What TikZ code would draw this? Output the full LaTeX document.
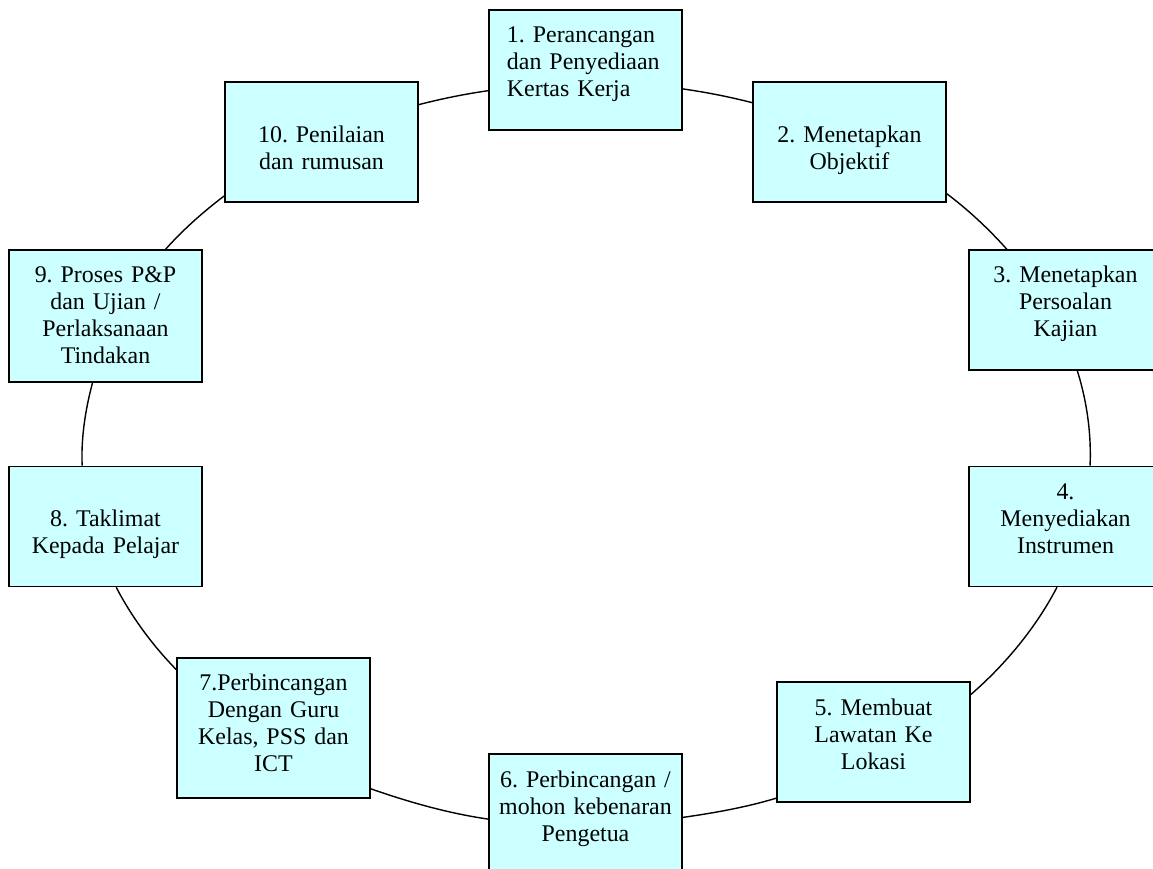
\documentclass[tikz,border=0pt]{standalone}
\usepackage{fontspec}
\setmainfont{Liberation Serif}
\frenchspacing
\definecolor{stagefill}{HTML}{CCFFFF}
\tikzstyle{stage} = [draw=black, line width=1.1pt, fill=stagefill, text width=4.425cm, inner xsep=0.2cm, inner ysep=0pt, align=center, text height=0.825cm, text depth=2.175cm, font=\fontsize{17}{19.2}\selectfont]
\tikzstyle{twoline} = [text height=1.5cm, text depth=1.5cm]
\tikzstyle{link} = [line width=1pt, looseness=0.85]

\begin{document}
\begin{tikzpicture}[x=0.025cm, y=0.025cm]
\useasboundingbox (0,0) rectangle (1153,-869);

\node[stage, align=left, inner xsep=0.45cm, text width=3.925cm] (plan) at (585.5,-70) {1. Perancangan\\dan Penyediaan\\Kertas Kerja};
\node[stage, twoline] (objektif) at (849.5,-142) {2. Menetapkan\\Objektif};
\node[stage] (persoalan) at (1065.5,-310) {3. Menetapkan\\Persoalan\\Kajian};
\node[stage] (instrumen) at (1065.5,-526.5) {4.\\Menyediakan\\Instrumen};
\node[stage] (lawatan) at (873.5,-742) {5. Membuat\\Lawatan Ke\\Lokasi};
\node[stage] (pengetua) at (585.5,-814) {6. Perbincangan /\\mohon kebenaran\\Pengetua};
\node[stage, text depth=2.675cm] (guru) at (273.5,-728) {7.Perbincangan\\Dengan Guru\\Kelas, PSS dan\\ICT};
\node[stage, twoline] (taklimat) at (105.5,-526.5) {8. Taklimat\\Kepada Pelajar};
\node[stage, text depth=2.475cm] (proses) at (105.5,-316) {9. Proses P\&P\\dan Ujian /\\Perlaksanaan\\Tindakan};
\node[stage, twoline] (nilai) at (321.5,-142) {10. Penilaian\\dan rumusan};

\draw[link] (plan.-11.6) to[out=-8.1, in=165.5] (objektif.158.5);
\draw[link] (objektif.-28.5) to[out=-36.9, in=131.8] (persoalan.134.3);
\draw[link] (persoalan.-79.2) to[out=-72.5, in=87.5] (instrumen.68.2);
\draw[link] (instrumen.-98.5) to[out=-117.6, in=40.9] (lawatan.26.3);
\draw[link] (lawatan.-150.2) to[out=-163.2, in=8.1] (pengetua.-2.5);
\draw[link] (pengetua.-177.6) to[out=171.8, in=-19.25] (guru.-32.4);
\draw[link] (guru.149.3) to[out=134.4, in=-62.4] (taklimat.-80.6);
\draw[link] (taklimat.111) to[out=92.5, in=-105] (proses.-101.9);
\draw[link] (proses.48) to[out=48.2, in=-142.9] (nilai.-151.2);
\draw[link] (nilai.21.4) to[out=14.6, in=-171.8] (plan.-168.35);
\end{tikzpicture}
\end{document}
